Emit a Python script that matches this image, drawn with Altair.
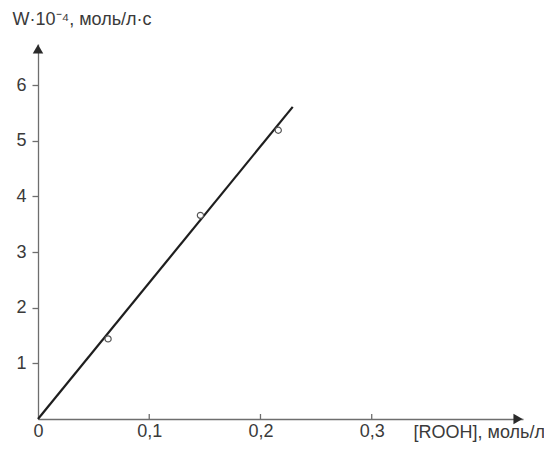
import altair as alt
import pandas as pd

# data
conc = [0.063, 0.146, 0.216]          # [ROOH], mol/l
rate = [1.44, 3.66, 5.19]             # W*10^-4
fit_x = [0.0, 0.229]
fit_y = [0.0, 5.61]
x_ticks = [0, 0.1, 0.2, 0.3]
x_minor = [0.1, 0.2, 0.3]
y_ticks = [1, 2, 3, 4, 5, 6]
x_max = 0.436
y_max = 6.74

FONT = "Liberation Sans"
TXT = "#3a3a3a"
AX = "#6e6e6e"

xs = alt.Scale(domain=[0, x_max], nice=False, zero=True)
ys = alt.Scale(domain=[0, y_max], nice=False, zero=True)

pts = pd.DataFrame({"x": conc, "y": rate})
fit = pd.DataFrame({"x": fit_x, "y": fit_y})
tk = pd.DataFrame({"x": x_minor, "y": [0] * len(x_minor)})

xaxis = alt.Axis(
    values=x_ticks, grid=False, ticks=False, tickSize=0,
    labelExpr="replace(format(datum.value, '.1~f'), '.', ',')",
    labelFont=FONT, labelFontSize=18, labelColor=TXT, labelPadding=3,
    labelBaseline="top", labelFlush=False, labelOverlap=False,
    domainColor=AX, domainWidth=1.3,
    title="[ROOH], моль/л", titleFont=FONT, titleFontSize=18, titleFontWeight="normal",
    titleColor=TXT, titleX=375, titleY=13, titleAlign="left", titleBaseline="middle",
)
yaxis = alt.Axis(
    values=y_ticks, grid=False, tickSize=6, tickColor=AX, tickWidth=1.3,
    labelFont=FONT, labelFontSize=18, labelColor=TXT, labelPadding=6,
    domainColor=AX, domainWidth=1.3,
    title="W·10⁻⁴, моль/л·с", titleFont=FONT, titleFontSize=18, titleFontWeight="normal",
    titleColor=TXT, titleAngle=0, titleX=-26, titleY=-25, titleAlign="left",
    titleBaseline="middle",
)

X = alt.X("x:Q", scale=xs, axis=xaxis)
Y = alt.Y("y:Q", scale=ys, axis=yaxis)

line = alt.Chart(fit).mark_line(color="#1e1e1e", strokeWidth=2.2).encode(x=X, y=Y)
points = alt.Chart(pts).mark_point(
    shape="circle", size=38, filled=False, stroke="#555555", strokeWidth=1.2, fill="white", fillOpacity=1
).encode(x=X, y=Y)
ticks = alt.Chart(tk).mark_rule(color=AX, strokeWidth=1.3, y2Offset=-5).encode(
    x=X, y=Y, y2=alt.Y2("y:Q"),
)
arrow_up = alt.Chart(pd.DataFrame({"x": [0], "y": [y_max]})).mark_point(
    shape="triangle-up", size=110, filled=True, color="#2a2a2a", opacity=1, yOffset=5
).encode(x=X, y=Y)
arrow_right = alt.Chart(pd.DataFrame({"x": [x_max], "y": [0]})).mark_point(
    shape="triangle-right", size=110, filled=True, color="#2a2a2a", opacity=1, xOffset=-5
).encode(x=X, y=Y)

chart = alt.layer(line, ticks, points, arrow_up, arrow_right).properties(
    width=485, height=375,
    autosize=alt.AutoSizeParams(type="none"),
    padding={"left": 30, "top": 36, "right": 21, "bottom": 23},
    background="white",
).configure_view(stroke=None)

chart.save("out.html", embed_options={"renderer": "svg", "actions": False})
